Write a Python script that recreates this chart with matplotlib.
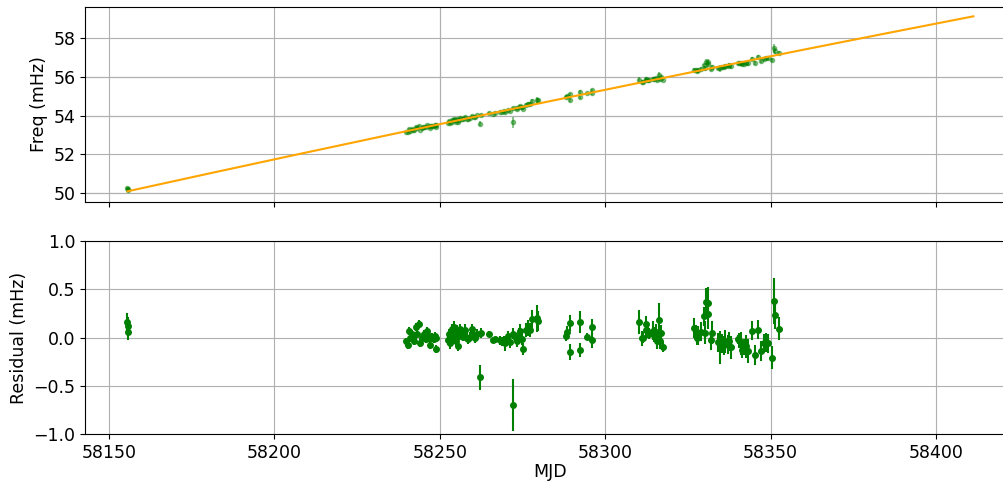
#-------------------------------------------------------------------------
# Spin frequency vs MJD with model fit and residuals
#-------------------------------------------------------------------------

import numpy as np
import matplotlib
matplotlib.use("Agg")
import matplotlib.pyplot as plt

# model: f = f0 + f1*(t - t0) + f2*(t - t0)^2   (mHz)
t0 = 58155.65
f0 = 50.10
f1 = 0.037505
f2 = -8.69e-6
t_end = 58411.3

# residuals (MJD, mHz, 1-sigma mHz)
mjd = [58155.6, 58155.7, 58155.8,
       58239.8, 58240.4, 58240.8, 58241.0, 58241.6, 58242.0, 58242.3, 58242.8, 58243.2, 58243.6,
       58243.9, 58244.5, 58245.0, 58245.4, 58245.8, 58246.3, 58246.8, 58247.1, 58247.4, 58247.8,
       58248.3, 58248.6, 58248.8, 58249.0,
       58252.4, 58252.8, 58253.1, 58253.6, 58253.8, 58254.2, 58254.6, 58254.9, 58255.2, 58255.6,
       58255.9, 58256.2, 58256.6, 58257.1, 58257.6, 58258.1, 58258.6, 58259.1, 58259.8, 58260.3,
       58260.8, 58261.4, 58262.2, 58262.5,
       58265.0, 58266.0, 58266.8, 58268.2, 58268.7, 58269.3, 58269.8, 58270.5, 58271.1,
       58272.2, 58272.2, 58273.0, 58273.4, 58274.0, 58274.4, 58275.0, 58275.2, 58276.0, 58276.7,
       58277.2, 58277.8, 58279.5, 58279.7,
       58288.3, 58288.6, 58289.3, 58289.3, 58292.5, 58292.5, 58294.5, 58295.9, 58296.0,
       58310.2, 58311.1, 58311.4, 58312.2, 58312.4, 58313.0, 58313.4, 58314.4, 58314.9, 58315.4,
       58315.6, 58316.3, 58316.5, 58317.0, 58317.5,
       58327.0, 58327.4, 58327.8, 58328.2, 58329.0, 58329.8, 58330.2, 58330.6, 58331.0, 58331.2,
       58332.0, 58332.2, 58334.0, 58334.8, 58335.2, 58335.8, 58336.2, 58337.0, 58337.5, 58338.0,
       58340.0, 58340.5, 58341.2, 58341.5, 58342.0, 58342.5, 58343.2, 58344.5, 58345.2, 58346.3,
       58347.1, 58347.9, 58348.6, 58349.1, 58350.3, 58351.1, 58351.3, 58352.4]
resid = [0.16, 0.12, 0.06,
         -0.04, -0.08, 0.07, -0.01, 0.04, 0.00, -0.04, 0.11, 0.04, 0.14,
         -0.06, 0.00, 0.01, 0.04, -0.02, 0.07, 0.02, -0.08, 0.00, 0.01,
         -0.02, 0.02, -0.12, 0.00,
         -0.03, 0.04, -0.06, 0.09, -0.01, 0.11, 0.04, -0.04, 0.08, -0.09,
         0.02, 0.09, 0.04, 0.01, 0.08, 0.00, -0.02, 0.01, 0.09, 0.02,
         -0.01, 0.04, -0.41, 0.05,
         0.04, -0.03, -0.02, -0.03, -0.04, -0.03, -0.06, 0.02, -0.05,
         0.04, -0.70, -0.01, -0.04, 0.04, 0.07, -0.02, -0.12, 0.08, 0.10,
         0.08, 0.19, 0.20, 0.17,
         0.02, 0.06, 0.15, -0.15, 0.16, -0.13, 0.01, 0.11, -0.03,
         0.16, -0.01, 0.00, 0.14, 0.08, 0.06, 0.04, 0.07, 0.03, 0.06,
         -0.04, 0.18, -0.04, 0.05, -0.10,
         0.10, 0.05, 0.00, 0.02, 0.06, 0.22, 0.05, 0.37, 0.24, 0.36,
         -0.03, 0.05, -0.05, -0.10, -0.06, -0.08, -0.04, -0.07, -0.04, -0.10,
         -0.02, -0.03, -0.06, -0.13, -0.10, -0.09, -0.14, 0.07, -0.18, 0.08,
         -0.14, -0.06, -0.05, -0.06, -0.21, 0.38, 0.23, 0.09]
err = [0.09, 0.09, 0.09,
       0.04, 0.04, 0.04, 0.04, 0.04, 0.04, 0.04, 0.04, 0.04, 0.04,
       0.04, 0.04, 0.04, 0.04, 0.04, 0.04, 0.04, 0.04, 0.04, 0.04,
       0.04, 0.04, 0.04, 0.04,
       0.05, 0.05, 0.06, 0.05, 0.05, 0.06, 0.05, 0.05, 0.05, 0.05,
       0.05, 0.05, 0.05, 0.05, 0.06, 0.05, 0.05, 0.05, 0.05, 0.05,
       0.05, 0.05, 0.13, 0.05,
       0.03, 0.03, 0.03, 0.05, 0.05, 0.05, 0.08, 0.05, 0.06,
       0.06, 0.27, 0.06, 0.06, 0.06, 0.07, 0.06, 0.06, 0.07, 0.08,
       0.07, 0.10, 0.14, 0.10,
       0.06, 0.06, 0.08, 0.08, 0.11, 0.07, 0.04, 0.08, 0.08,
       0.12, 0.08, 0.06, 0.08, 0.08, 0.06, 0.06, 0.10, 0.08, 0.08,
       0.08, 0.18, 0.08, 0.08, 0.05,
       0.10, 0.08, 0.08, 0.10, 0.10, 0.10, 0.12, 0.14, 0.15, 0.16,
       0.10, 0.12, 0.10, 0.17, 0.10, 0.10, 0.12, 0.10, 0.10, 0.12,
       0.05, 0.08, 0.12, 0.08, 0.08, 0.12, 0.12, 0.10, 0.10, 0.10,
       0.10, 0.10, 0.10, 0.10, 0.12, 0.24, 0.14, 0.12]

# grid lines that show darker in the upper panel
dark_ygrid = [50, 54, 56]
dark_xgrid = [58250, 58350]


def model(t):
    dt = np.asarray(t) - t0
    return f0 + f1 * dt + f2 * dt**2


mjd   = np.array(mjd)
resid = np.array(resid)
err   = np.array(err)
freq  = model(mjd) + resid

plt.rcParams["font.size"] = 12.5

fig = plt.figure(figsize=(10.04, 4.83), dpi=100)
ax1 = fig.add_axes([0.0847, 0.5818, 0.927, 0.4037])
ax2 = fig.add_axes([0.0847, 0.1014, 0.927, 0.3996], sharex=ax1)

# upper panel
tt = np.linspace(t0, t_end, 300)
ax1.errorbar(mjd, freq, yerr=err, fmt="o", color="green", ms=3, alpha=0.45, zorder=3)
ax1.plot(tt, model(tt), color="orange", lw=1.5, zorder=4)
ax1.grid(True)
for y in dark_ygrid:
    ax1.axhline(y, color="#b0b0b0", lw=0.8, zorder=0)
for x in dark_xgrid:
    ax1.axvline(x, color="#b0b0b0", lw=0.8, zorder=0)
ax1.set_ylim(49.55, 59.6)
ax1.set_ylabel("Freq (mHz)")
ax1.set_yticks([50, 52, 54, 56, 58])
plt.setp(ax1.get_xticklabels(), visible=False)

# lower panel
ax2.errorbar(mjd, resid, yerr=err, fmt="o", color="green", ms=4, lw=1.5, zorder=3)
ax2.grid(True)
ax2.set_ylim(-1, 1)
ax2.set_yticks([-1.0, -0.5, 0.0, 0.5, 1.0])
ax2.set_ylabel("Residual (mHz)")
ax2.set_xlabel("MJD", labelpad=1)
ax2.set_xticks([58150, 58200, 58250, 58300, 58350, 58400])

fig.savefig("out.png", dpi=100)
